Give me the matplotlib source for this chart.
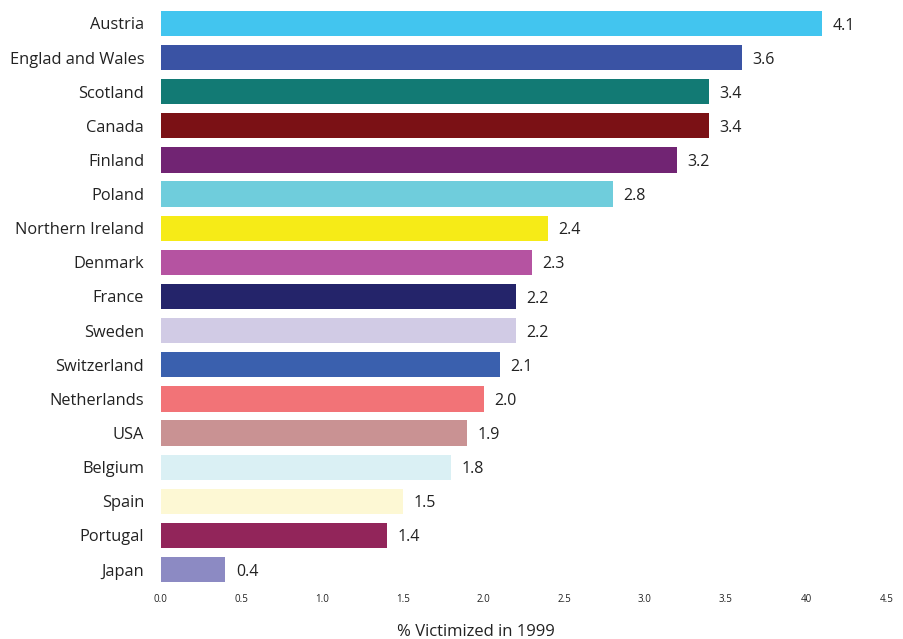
import matplotlib
matplotlib.use("Agg")
import matplotlib.pyplot as plt
from matplotlib.transforms import ScaledTranslation

countries = ["Austria", "Englad and Wales", "Scotland", "Canada", "Finland", "Poland",
             "Northern Ireland", "Denmark", "France", "Sweden", "Switzerland",
             "Netherlands", "USA", "Belgium", "Spain", "Portugal", "Japan"]
values = [4.1, 3.6, 3.4, 3.4, 3.2, 2.8, 2.4, 2.3, 2.2, 2.2, 2.1, 2.0, 1.9, 1.8, 1.5, 1.4, 0.4]
colors = ["#42C5EF", "#3A53A4", "#127A74", "#7B1115", "#712473", "#6FCDDC",
          "#F6EB17", "#B553A1", "#24246A", "#D1CBE5", "#3A60AE", "#F27377",
          "#C99293", "#DAF0F4", "#FDF8D4", "#92255A", "#8C8AC3"]
tick_vals = [0.0, 0.5, 1.0, 1.5, 2.0, 2.5, 3.0, 3.5, 4.0, 4.5]
tick_labels = ["0.0", "0.5", "1.0", "1.5", "2.0", "2.5", "3.0", "3.5", "40", "4.5"]

plt.rcParams['font.family'] = ['Open Sans', 'DejaVu Sans']

fig = plt.figure(figsize=(9.04, 6.39), dpi=100)
ax = fig.add_axes([0.178, 0.082, 0.803, 0.908])

y = list(range(len(countries)))
ax.barh(y, values, height=0.74, color=colors)
ax.set_ylim(len(countries) - 0.5, -0.5)
ax.set_xlim(0, 4.5)

for yi, v in zip(y, values):
    ax.annotate(f"{v:.1f}", xy=(v, yi), xytext=(7.5, -1.5), textcoords="offset points",
                ha="left", va="center", fontsize=11.5, color="#222222")

ax.set_yticks(y)
ax.set_yticklabels(countries, fontsize=11.8, color="#222222")
shift = ScaledTranslation(0, 3 / 100, fig.dpi_scale_trans)
for lab in ax.get_yticklabels():
    lab.set_transform(lab.get_transform() + shift)
ax.set_xticks(tick_vals)
ax.set_xticklabels(tick_labels, fontsize=7, color="#222222")
ax.tick_params(axis='both', length=0)
ax.tick_params(axis='y', pad=12)
ax.tick_params(axis='x', pad=5)
for s in ax.spines.values():
    s.set_visible(False)
ax.set_xlabel("% Victimized in 1999", fontsize=12, color="#222222", labelpad=13)
ax.xaxis.set_label_coords(0.434, -0.065)

fig.savefig("out.png", dpi=100)
